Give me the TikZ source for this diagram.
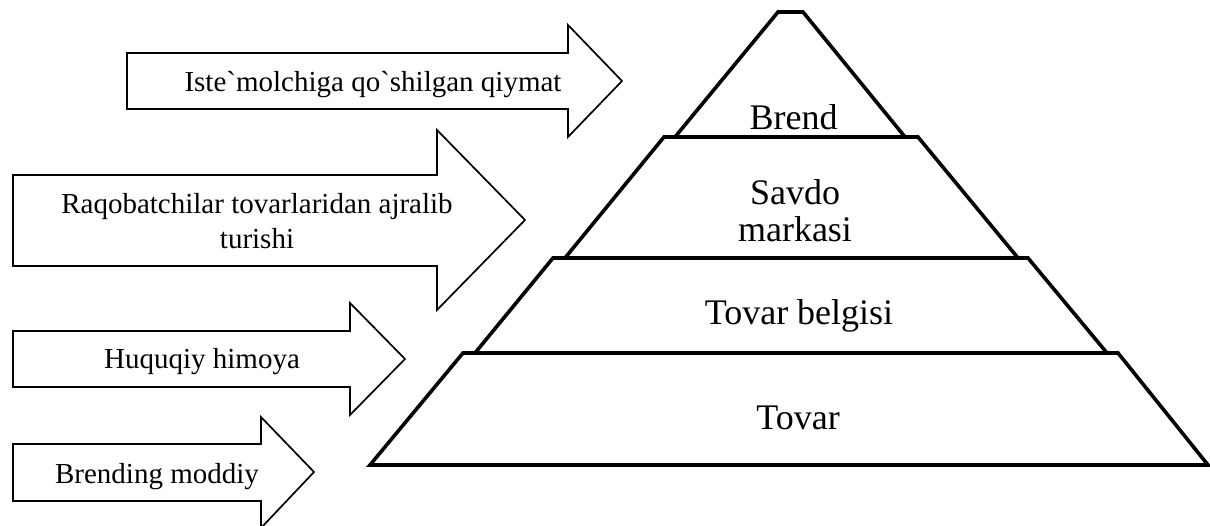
\documentclass[tikz,border=0pt]{standalone}
\usepackage{fontspec}
\setmainfont{Liberation Serif}
\begin{document}
\begin{tikzpicture}[x=1pt,y=-1pt,
  blockarrow/.style={draw=black,line width=1.7pt,line join=miter},
  layer/.style={draw=black,line width=3.6pt,line join=miter},
  arrowtext/.style={font=\fontsize{29}{35}\selectfont,align=center,inner sep=0pt,anchor=base},
  layertext/.style={font=\fontsize{36}{37}\selectfont,align=center,inner sep=0pt,anchor=base}]
\useasboundingbox (0,0) rectangle (1210,526);

% block arrows on the left
\draw[blockarrow] (127,53) -- (568,53) -- (568,25) -- (622,81) -- (568,137) -- (568,109) -- (127,109) -- cycle;
\draw[blockarrow] (13,175) -- (437,175) -- (437,130) -- (525,220) -- (437,310) -- (437,266) -- (13,266) -- cycle;
\draw[blockarrow] (13,331) -- (350,331) -- (350,303) -- (405,359) -- (350,415) -- (350,387) -- (13,387) -- cycle;
\draw[blockarrow] (13,444) -- (261,444) -- (261,417) -- (314,472) -- (261,528) -- (261,501) -- (13,501) -- cycle;

\node[arrowtext] (consumer) at (373,91.5) {Iste\textasciigrave molchiga qo\textasciigrave shilgan qiymat};
\node[arrowtext] (distinct) at (257,249) {Raqobatchilar tovarlaridan ajralib\\turishi};
\node[arrowtext] (legal) at (202,369) {Huquqiy himoya};
\node[arrowtext] (material) at (157,483) {Brending moddiy};

% pyramid layers, top to bottom
\draw[layer] (675,137) -- (778,12) -- (803,12) -- (905,137) -- cycle;
\draw[layer] (565,258) -- (664,137) -- (918,137) -- (1018,258) -- cycle;
\draw[layer] (475,353) -- (553,258) -- (1028,258) -- (1107,353) -- cycle;
\draw[layer] (370,465) -- (463,353) -- (1118,353) -- (1208,465) -- cycle;

\node[layertext] (brand) at (793.5,130) {Brend};
\node[layertext] (trade) at (795,242) {Savdo\\markasi};
\node[layertext] (mark) at (799,325) {Tovar belgisi};
\node[layertext] (goods) at (798,429) {Tovar};
\end{tikzpicture}
\end{document}
